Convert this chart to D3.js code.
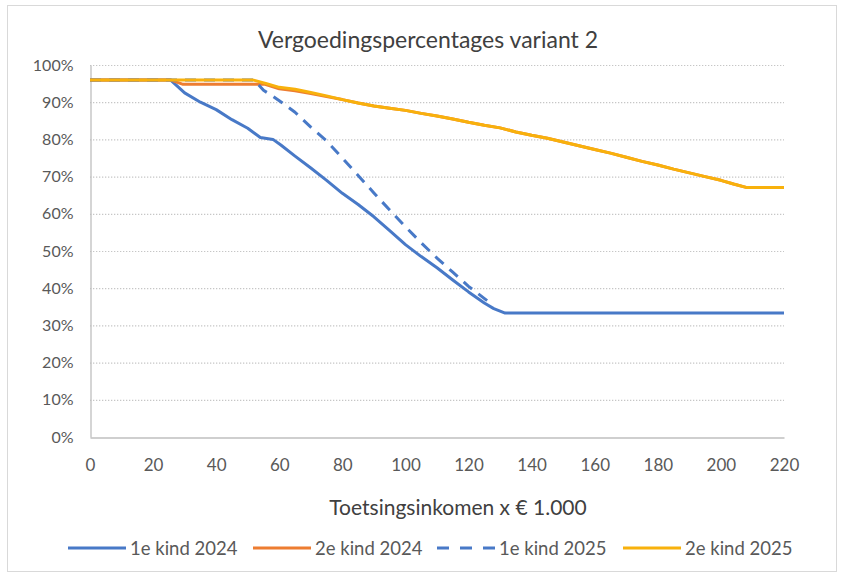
<!DOCTYPE html>
<html>
<head>
<meta charset="utf-8">
<script src="https://cdn.jsdelivr.net/npm/d3@7"></script>
<style>
  html, body { margin: 0; padding: 0; background: #ffffff; }
  svg { display: block; font-family: Lato, "Noto Sans", sans-serif; }
</style>
</head>
<body>
<svg id="chart" width="843" height="575"></svg>
<script>
// ---- data (income x €1.000, percentage) ----
const chartTitle = "Vergoedingspercentages variant 2";
const xAxisTitle = "Toetsingsinkomen x € 1.000";
const xTicks = [0, 20, 40, 60, 80, 100, 120, 140, 160, 180, 200, 220];
const yTicks = [0, 10, 20, 30, 40, 50, 60, 70, 80, 90, 100];
const seriesNames = ["1e kind 2024", "2e kind 2024", "1e kind 2025", "2e kind 2025"];

const kind1_2024_x = [0, 25.5, 30, 35, 40, 45, 50, 54, 58, 60.5, 65, 70, 75, 80, 85, 90, 95, 100, 105, 110, 115, 120, 125, 128, 131.6, 220];
const kind1_2024_y = [96, 96, 92.5, 90, 88, 85.3, 83, 80.5, 80, 78.5, 75.5, 72.3, 69, 65.5, 62.5, 59.2, 55.5, 51.7, 48.5, 45.5, 42.2, 39, 36, 34.5, 33.3, 33.3];

const kind2_2024_x = [0, 25.5, 29.5, 55.5, 60, 65, 70, 75, 80, 85, 90, 95, 100, 105, 110, 115, 120, 125, 130, 135, 140, 145, 150, 155, 160, 165, 170, 175, 180, 185, 190, 195, 200, 204, 208, 220];
const kind2_2024_y = [96, 96, 94.8, 94.8, 93.6, 93.1, 92.3, 91.5, 90.7, 89.8, 89, 88.4, 87.8, 87, 86.3, 85.5, 84.6, 83.8, 83.1, 82, 81.1, 80.3, 79.3, 78.3, 77.3, 76.3, 75.2, 74.1, 73.1, 72, 71, 70, 69, 68, 67.1, 67.1];

const kind1_2025_x = [0, 52, 55, 58, 60, 65, 70, 75, 80, 85, 90, 95, 100, 105, 110, 115, 120, 127.5];
const kind1_2025_y = [96, 96, 93.2, 91.6, 90.4, 87.3, 83.3, 79.6, 75, 70.3, 65.6, 61, 56.5, 52.2, 48.1, 44.3, 40.5, 35.6];

const kind2_2025_x = [0, 51.5, 56, 60, 65, 70, 75, 80, 85, 90, 95, 100, 105, 110, 115, 120, 125, 130, 135, 140, 145, 150, 155, 160, 165, 170, 175, 180, 185, 190, 195, 200, 204, 208, 220];
const kind2_2025_y = [96, 96, 95, 94, 93.5, 92.6, 91.7, 90.7, 89.8, 89, 88.4, 87.8, 87, 86.3, 85.5, 84.6, 83.8, 83.1, 82, 81.1, 80.3, 79.3, 78.3, 77.3, 76.3, 75.2, 74.1, 73.1, 72, 71, 70, 69, 68, 67.1, 67.1];

const seriesColors = ["#4879c7", "#ed7d31", "#4879c7", "#f8b10c"];
const seriesDash = [null, null, "11 8", null];

// ---- build ----
const series = [
  {name: seriesNames[0], xs: kind1_2024_x, ys: kind1_2024_y},
  {name: seriesNames[1], xs: kind2_2024_x, ys: kind2_2024_y},
  {name: seriesNames[2], xs: kind1_2025_x, ys: kind1_2025_y},
  {name: seriesNames[3], xs: kind2_2025_x, ys: kind2_2025_y}
].map((s, i) => ({...s, color: seriesColors[i], dash: seriesDash[i],
   points: s.xs.map((x, j) => ({x: x, y: s.ys[j]}))}));

const svg = d3.select("#chart");
const plot = {left: 90, right: 784, top: 65, bottom: 437};

// outer border
svg.append("rect").attr("x", 7.5).attr("y", 5.5).attr("width", 829).attr("height", 566)
  .attr("fill", "#fff").attr("stroke", "#d9d9d9").attr("stroke-width", 1);

const x = d3.scaleLinear().domain([0, 220]).range([plot.left, plot.right]);
const y = d3.scaleLinear().domain([0, 100]).range([plot.bottom, plot.top]);

// gridlines
svg.append("g").selectAll("line").data(yTicks.filter(t => t > 0)).join("line")
  .attr("x1", plot.left).attr("x2", plot.right)
  .attr("y1", d => y(d) + 0.5).attr("y2", d => y(d) + 0.5)
  .attr("stroke", "#c6c6c6").attr("stroke-width", 1.2).attr("stroke-dasharray", "1.3 1.7");

// axes
const yAxis = d3.axisLeft(y).tickValues(yTicks).tickSize(0).tickPadding(17)
  .tickFormat(d => d + "%");
const gy = svg.append("g").attr("transform", `translate(${plot.left + 0.5},0)`).call(yAxis);
gy.select(".domain").attr("stroke", "#bfbfbf").attr("stroke-width", 1.3);
gy.selectAll("text").attr("fill", "#595959").style("font-size", "16px")
  .style("font-family", "Lato, sans-serif");

const xAxis = d3.axisBottom(x).tickValues(xTicks).tickSize(0).tickPadding(21);
const gx = svg.append("g").attr("transform", `translate(0,${plot.bottom + 0.5})`).call(xAxis);
gx.select(".domain").attr("stroke", "#bfbfbf").attr("stroke-width", 1.3);
gx.selectAll("text").attr("fill", "#595959").style("font-size", "17px")
  .style("font-family", "Lato, sans-serif");

// lines
const line = d3.line().x(d => x(d.x)).y(d => y(d.y));
svg.append("g").selectAll("path").data(series).join("path")
  .attr("d", d => line(d.points))
  .attr("fill", "none")
  .attr("stroke", d => d.color)
  .attr("stroke-width", 3)
  .attr("stroke-linejoin", "round")
  .attr("stroke-dasharray", d => d.dash);

// title
svg.append("text").attr("x", 428).attr("y", 48).attr("text-anchor", "middle")
  .attr("fill", "#404040").style("font-size", "23px").text(chartTitle);

// x axis title
svg.append("text").attr("x", 458).attr("y", 515).attr("text-anchor", "middle")
  .attr("fill", "#404040").style("font-size", "21px").text(xAxisTitle);

// legend
const legendX = [68, 253, 437, 623];
const lg = svg.append("g").selectAll("g").data(series).join("g")
  .attr("transform", (d, i) => `translate(${legendX[i]},548)`);
lg.append("line").attr("x1", 0).attr("x2", 58).attr("y1", 0).attr("y2", 0)
  .attr("stroke", d => d.color).attr("stroke-width", 3)
  .attr("stroke-dasharray", d => d.dash ? "12 11" : null);
lg.append("text").attr("x", 62).attr("y", 6.5).attr("fill", "#595959")
  .style("font-size", "18.5px").text(d => d.name);
</script>
</body>
</html>
